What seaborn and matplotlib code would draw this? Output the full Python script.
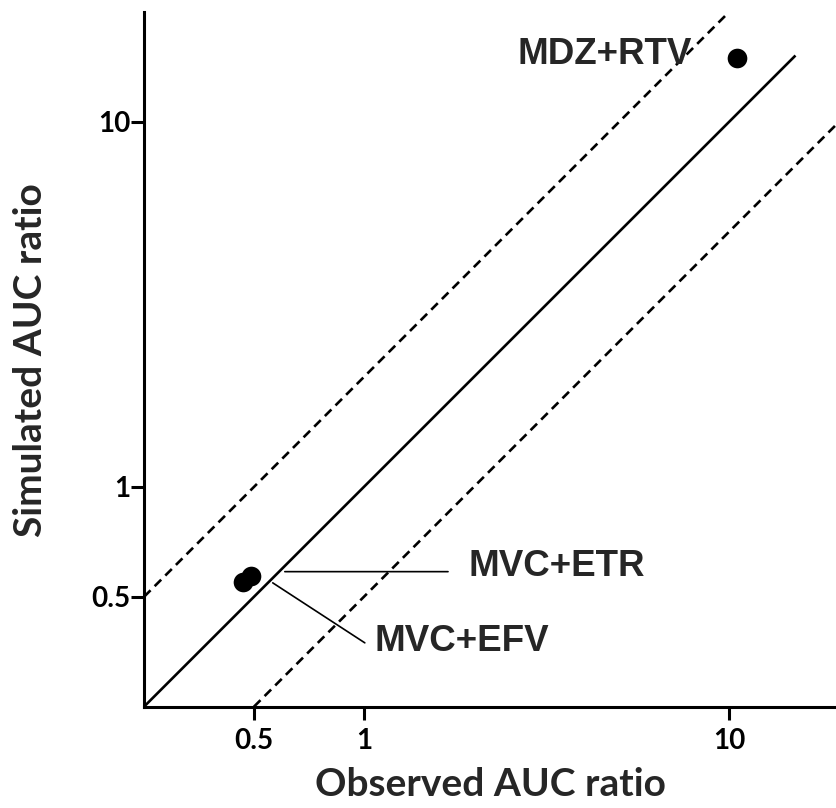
import matplotlib
matplotlib.use("Agg")
import matplotlib.pyplot as plt
import seaborn as sns
import pandas as pd
import numpy as np

# ---- data ----
pairs = ["MDZ+RTV", "MVC+EFV", "MVC+ETR"]
observed = [10.5, 0.467, 0.492]
simulated = [15.0, 0.55, 0.57]

x_ticks = [0.5, 1, 10]
x_ticklabels = ["0.5", "1", "10"]
y_ticks = [0.5, 1, 10]
y_ticklabels = ["0.5", "1", "10"]

unity_x = [0.25, 15.2]
upper_x = [0.25, 10.0]   # 2-fold line
lower_x = [0.5, 20.0]    # 0.5-fold line

df = pd.DataFrame({"pair": pairs, "observed": observed, "simulated": simulated})

sns.set_style("ticks")
plt.rcParams["font.family"] = ["Lato", "DejaVu Sans"]
plt.rcParams["font.weight"] = "bold"
plt.rcParams["xtick.labelsize"] = 20
plt.rcParams["ytick.labelsize"] = 20

fig = plt.figure(figsize=(8.36, 8.08), dpi=100)
ax = fig.add_axes([144 / 836, 101.3 / 808, 695 / 836, 694.7 / 808])

ax.set_xscale("log")
ax.set_yscale("log")
ax.set_xlim(0.25, 20)
ax.set_ylim(0.25, 20)

lw = 1.9
ax.plot(unity_x, unity_x, color="black", lw=lw, solid_capstyle="butt")
ax.plot(upper_x, [2 * v for v in upper_x], color="black", lw=lw, ls=(0, (3.5, 2.2)))
ax.plot(lower_x, [0.5 * v for v in lower_x], color="black", lw=lw, ls=(0, (3.5, 2.2)))

sns.scatterplot(data=df, x="observed", y="simulated", ax=ax, color="black",
                s=200, edgecolor="black", linewidth=0, legend=False, zorder=5)

# leader lines
ax.annotate("", xy=(0.6075, 0.586), xytext=(1.70, 0.586),
            arrowprops=dict(arrowstyle="-", lw=1.2, color="black", shrinkA=0, shrinkB=0))
ax.annotate("", xy=(0.563, 0.546), xytext=(1.006, 0.374),
            arrowprops=dict(arrowstyle="-", lw=1.2, color="black", shrinkA=0, shrinkB=0))

lab_font = dict(family=["Liberation Sans", "DejaVu Sans"], fontsize=26.5, fontweight="bold")
ax.text(2.64, 15.3, "MDZ+RTV", ha="left", va="center", **lab_font)
ax.text(1.93, 0.604, "MVC+ETR", ha="left", va="center", **lab_font)
ax.text(1.07, 0.376, "MVC+EFV", ha="left", va="center", **lab_font)

ax.set_xticks(x_ticks)
ax.set_xticklabels(x_ticklabels, fontsize=20, fontweight="bold")
ax.set_yticks(y_ticks)
ax.set_yticklabels(y_ticklabels, fontsize=20, fontweight="bold")
ax.xaxis.set_minor_locator(matplotlib.ticker.NullLocator())
ax.yaxis.set_minor_locator(matplotlib.ticker.NullLocator())
ax.xaxis.set_minor_formatter(matplotlib.ticker.NullFormatter())
ax.yaxis.set_minor_formatter(matplotlib.ticker.NullFormatter())

for s in ["top", "right"]:
    ax.spines[s].set_visible(False)
for s in ["left", "bottom"]:
    ax.spines[s].set_linewidth(2.2)
    ax.spines[s].set_color("black")

ax.tick_params(axis="both", which="major", length=9.5, width=2.2, color="black",
               direction="out", labelsize=20, labelcolor="black")
ax.tick_params(axis="x", pad=6)
ax.tick_params(axis="y", pad=0)

ax.set_xlabel("Observed AUC ratio", fontsize=28, fontweight="bold", va="center")
ax.set_ylabel("Simulated AUC ratio", fontsize=28, fontweight="bold", va="center")
ax.xaxis.set_label_coords(0.498, -0.1127)
ax.yaxis.set_label_coords(-0.164, 0.499)
ax.patch.set_alpha(0)

fig.canvas.draw()
for t in ax.get_xticklabels() + ax.get_yticklabels():
    t.set_fontsize(20)
    t.set_fontweight("bold")

fig.savefig("out.png", dpi=100, facecolor="white")
